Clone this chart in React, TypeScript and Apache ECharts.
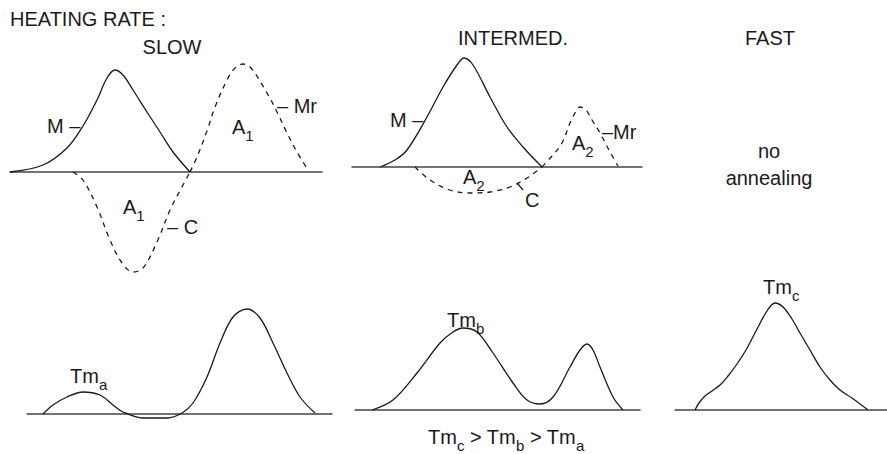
import { useEffect, useRef } from "react";
import * as echarts from "echarts";

// DSC traces as [temperature offset, heat flow] pairs; heat flow 0 is the panel baseline.
// First scans (top row): melting endotherm M, cold crystallisation C, re-melting Mr.
const slowMelt = [
  [0, 0], [33, 7], [57, 24], [73, 46], [87, 72], [97, 94], [105, 102], [113, 97],
  [123, 82], [137, 60], [150, 40], [163, 20], [180, 0],
];
const slowCryst = [
  [63, 0], [73, -8], [87, -35], [100, -68], [112, -91], [123, -100], [133, -96],
  [147, -70], [160, -38], [172, -15], [180, 0],
];
const slowRemelt = [
  [180, 0], [187, 15], [197, 41], [205, 65], [217, 92], [225, 104], [233, 108],
  [241, 104], [257, 79], [267, 60], [277, 39], [287, 20], [298, 2],
];
const intMelt = [
  [28, 0], [43, 7], [55, 17], [75, 50], [91, 80], [105, 102], [112, 109], [121, 102],
  [138, 70], [155, 40], [171, 20], [190, 0],
];
const intCryst = [
  [63, 0], [78, -13], [98, -23], [118, -26], [138, -25], [158, -20], [175, -11], [190, 0],
];
const intRemelt = [
  [190, 0], [200, 11], [210, 24], [218, 44], [223, 54], [228, 60], [234, 57],
  [240, 47], [248, 34], [258, 15], [266, 1],
];
// Rescans after annealing (bottom row)
const slowRescan = [
  [16, 0], [26, 9], [40, 17], [56, 22], [73, 19], [86, 9], [96, 2], [116, -4],
  [140, -4], [155, 1], [166, 11], [180, 37], [193, 71], [206, 97], [220, 105],
  [233, 96], [246, 71], [260, 41], [273, 17], [288, 1],
];
const intRescan = [
  [17, 0], [38, 10], [62, 37], [85, 67], [98, 78], [108, 82], [122, 78], [138, 57],
  [158, 27], [172, 10], [185, 6], [198, 13], [215, 43], [225, 60], [232, 66],
  [238, 60], [245, 43], [258, 13], [268, 0],
];
const fastRescan = [
  [20, 0], [24, 7], [30, 14], [37, 19], [45, 25], [53, 34], [62, 46], [71, 60],
  [81, 79], [92, 99], [100, 107], [108, 103], [117, 91], [125, 77], [135, 60],
  [145, 43], [155, 30], [165, 20], [177, 12], [193, 0],
];

const FONT = '"Liberation Sans", Arial, Helvetica, sans-serif';
const INK = "#1a1a1a";
const AXIS = "#444";

const panels = [
  { left: 10, top: 52, width: 312, height: 230, yMin: -110, yMax: 120 },
  { left: 352, top: 52, width: 290, height: 158, yMin: -43, yMax: 115 },
  { left: 27, top: 300, width: 305, height: 125, yMin: -11, yMax: 114 },
  { left: 355, top: 300, width: 285, height: 120, yMin: -10, yMax: 110 },
  { left: 675, top: 290, width: 212, height: 130, yMin: -10, yMax: 120 },
];

const traces: { data: number[][]; panel: number; dashed: boolean }[] = [
  { data: slowMelt, panel: 0, dashed: false },
  { data: slowCryst, panel: 0, dashed: true },
  { data: slowRemelt, panel: 0, dashed: true },
  { data: intMelt, panel: 1, dashed: false },
  { data: intCryst, panel: 1, dashed: true },
  { data: intRemelt, panel: 1, dashed: true },
  { data: slowRescan, panel: 2, dashed: false },
  { data: intRescan, panel: 3, dashed: false },
  { data: fastRescan, panel: 4, dashed: false },
];

// main run sits at the top of the line; subscript run is pushed down by its top padding
const rich = {
  m: { fontSize: 20, fontFamily: FONT, lineHeight: 20, verticalAlign: "top", fill: INK },
  s: { fontSize: 15, fontFamily: FONT, padding: [11, 0, 0, 0], verticalAlign: "top", fill: INK },
};

function label(text: string, x: number, y: number, align = "left") {
  return {
    type: "text",
    x,
    y,
    silent: true,
    style: {
      text,
      fill: INK,
      font: `20px ${FONT}`,
      align,
      verticalAlign: "middle",
    },
  };
}

// Text with subscripts: parts alternate between normal and subscript runs
function subLabel(parts: string[], x: number, y: number) {
  const text = parts
    .map((p, i) => (i % 2 === 0 ? `{m|${p}}` : `{s|${p}}`))
    .join("");
  return {
    type: "text",
    x,
    y: y - 10,
    silent: true,
    style: {
      text,
      rich,
      fill: INK,
      font: `20px ${FONT}`,
      align: "left",
      verticalAlign: "top",
    },
  };
}

export default function App() {
  const ref = useRef<HTMLDivElement>(null);

  useEffect(() => {
    document.body.style.margin = "0";
    if (!ref.current) return;
    const chart = echarts.init(ref.current, undefined, { renderer: "svg" });

    const option = {
      animation: false,
      backgroundColor: "#ffffff",
      grid: panels.map((p) => ({
        left: p.left,
        top: p.top,
        width: p.width,
        height: p.height,
        containLabel: false,
        outerBoundsMode: "none",
      })),
      xAxis: panels.map((p, i) => ({
        type: "value",
        gridIndex: i,
        min: 0,
        max: p.width,
        axisLine: { show: true, onZero: true, lineStyle: { color: AXIS, width: 1.5 } },
        axisTick: { show: false },
        axisLabel: { show: false },
        splitLine: { show: false },
      })),
      yAxis: panels.map((p, i) => ({
        type: "value",
        gridIndex: i,
        min: p.yMin,
        max: p.yMax,
        axisLine: { show: false },
        axisTick: { show: false },
        axisLabel: { show: false },
        splitLine: { show: false },
      })),
      series: traces.map((t) => ({
        type: "line",
        xAxisIndex: t.panel,
        yAxisIndex: t.panel,
        data: t.data,
        smooth: 0.35,
        showSymbol: false,
        silent: true,
        lineStyle: {
          color: INK,
          width: 1.3,
          type: t.dashed ? [5, 5] : "solid",
        },
      })),
      graphic: [
        label("HEATING RATE :", 10, 19),
        label("SLOW", 172, 47, "center"),
        label("INTERMED.", 513, 38, "center"),
        label("FAST", 770, 38, "center"),
        label("no", 769, 151, "center"),
        label("annealing", 769, 178, "center"),
        // slow heating, first scan
        label("M –", 47, 126),
        subLabel(["A", "1"], 232, 127),
        label("– Mr", 277, 106),
        subLabel(["A", "1"], 123, 207),
        label("– C", 167, 227),
        // intermediate heating, first scan
        label("M –", 390, 120),
        subLabel(["A", "2"], 572, 143),
        label("–Mr", 602, 132),
        subLabel(["A", "2"], 463, 177),
        label("C", 525, 200),
        {
          type: "line",
          silent: true,
          shape: { x1: 517, y1: 183, x2: 523, y2: 190 },
          style: { stroke: INK, lineWidth: 1.2 },
        },
        // rescans
        subLabel(["Tm", "a"], 70, 376),
        subLabel(["Tm", "b"], 447, 320),
        subLabel(["Tm", "c"], 763, 287),
        subLabel(["Tm", "c", " > Tm", "b", " > Tm", "a"], 428, 437),
      ],
    };

    chart.setOption(option as any);
    return () => chart.dispose();
  }, []);

  return <div ref={ref} style={{ width: 887, height: 454 }} />;
}
